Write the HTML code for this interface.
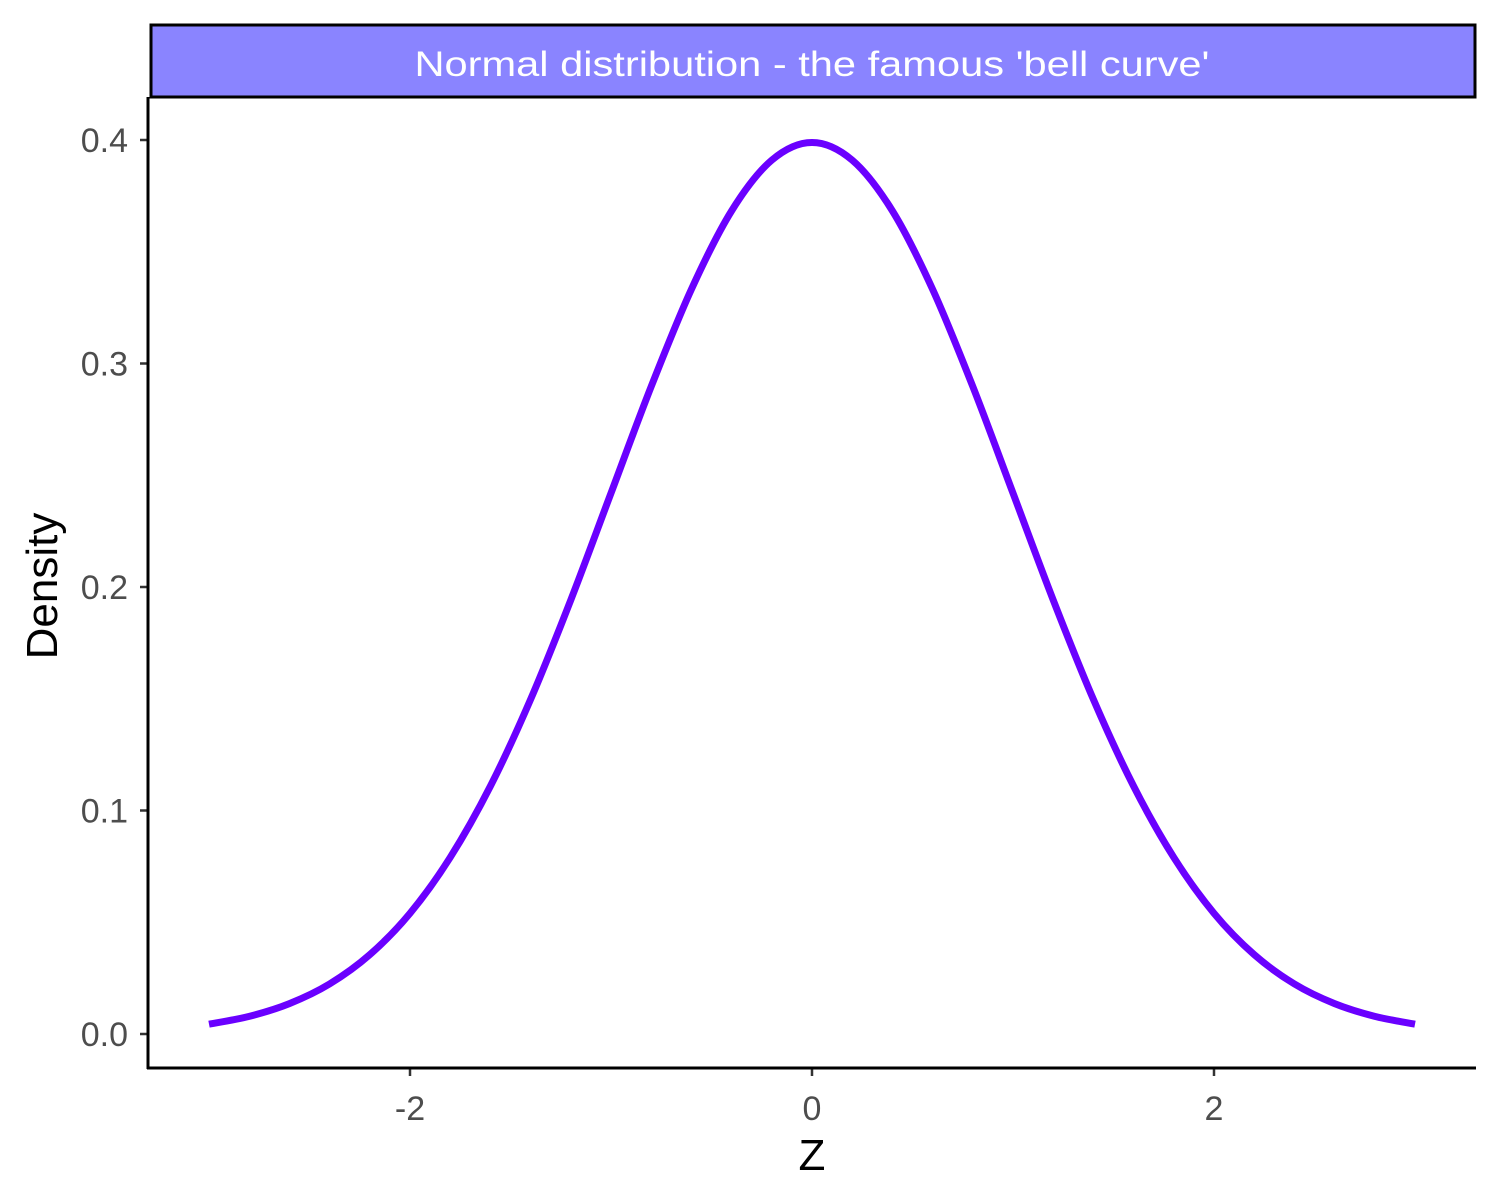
<!DOCTYPE html>
<html><head><meta charset="utf-8"><style>
html,body{margin:0;padding:0;background:#fff;}
svg{display:block;font-family:"Liberation Sans",Arial,sans-serif;}
</style></head><body>
<svg id="chart" width="1500" height="1200" viewBox="0 0 1500 1200">
  <rect x="0" y="0" width="1500" height="1200" fill="#fff"/>
  <g>
    <rect x="151" y="25" width="1324" height="72" fill="#8a84ff" stroke="#000" stroke-width="3"/>
    <text x="812" y="76" text-anchor="middle" font-size="35px" fill="#fff" textLength="795" lengthAdjust="spacingAndGlyphs">Normal distribution - the famous 'bell curve'</text>
  </g>
  <g id="axes"></g>
  <path id="curve" fill="none" stroke="#6a00ff" stroke-width="7" stroke-linejoin="round"/>
  <line x1="148" y1="97" x2="148" y2="1069" stroke="#000" stroke-width="3"/>
  <line x1="147" y1="1068" x2="1476" y2="1068" stroke="#000" stroke-width="3"/>
  <text x="812" y="1170" text-anchor="middle" font-size="44px" fill="#000">Z</text>
  <text transform="translate(57,586) rotate(-90)" text-anchor="middle" font-size="44px" fill="#000">Density</text>
</svg>
<script>
const zValues = [-3,-2.8,-2.6,-2.4,-2.2,-2,-1.8,-1.6,-1.4,-1.2,-1,-0.8,-0.6,-0.4,-0.2,0,0.2,0.4,0.6,0.8,1,1.2,1.4,1.6,1.8,2,2.2,2.4,2.6,2.8,3];
const densityValues = [0.0044,0.0079,0.0136,0.0224,0.0355,0.0540,0.0790,0.1109,0.1497,0.1942,0.2420,0.2897,0.3332,0.3683,0.3910,0.3989,0.3910,0.3683,0.3332,0.2897,0.2420,0.1942,0.1497,0.1109,0.0790,0.0540,0.0355,0.0224,0.0136,0.0079,0.0044];
const xTicks = [-2,0,2];
const xTickLabels = ["-2","0","2"];
const yTicks = [0,0.1,0.2,0.3,0.4];
const yTickLabels = ["0.0","0.1","0.2","0.3","0.4"];

function xScale(v){return 812 + v*201;}
function yScale(v){return 1034 - v*2235;}

const NS="http://www.w3.org/2000/svg";
const axes=document.getElementById('axes');
xTicks.forEach((t,i)=>{
  const l=document.createElementNS(NS,'line');
  l.setAttribute('x1',xScale(t));l.setAttribute('x2',xScale(t));
  l.setAttribute('y1',1068);l.setAttribute('y2',1076);
  l.setAttribute('stroke','#333');l.setAttribute('stroke-width','2.5');
  
  
  axes.appendChild(l);
  const tx=document.createElementNS(NS,'text');
  tx.setAttribute('x',xScale(t));tx.setAttribute('y',1120);
  tx.setAttribute('text-anchor','middle');tx.setAttribute('font-size','34px');tx.setAttribute('fill','#4d4d4d');
  tx.textContent=xTickLabels[i];
  
  
  axes.appendChild(tx);
});
yTicks.forEach((t,i)=>{
  const l=document.createElementNS(NS,'line');
  l.setAttribute('x1',140);l.setAttribute('x2',148);
  l.setAttribute('y1',yScale(t));l.setAttribute('y2',yScale(t));
  l.setAttribute('stroke','#333');l.setAttribute('stroke-width','2.5');
  
  
  axes.appendChild(l);
  const tx=document.createElementNS(NS,'text');
  tx.setAttribute('x',128);tx.setAttribute('y',yScale(t)+12);
  tx.setAttribute('text-anchor','end');tx.setAttribute('font-size','34px');tx.setAttribute('fill','#4d4d4d');
  tx.textContent=yTickLabels[i];
  
  
  axes.appendChild(tx);
});
const pts=zValues.map((z,i)=>[xScale(z),yScale(densityValues[i])]);
let d='M'+pts[0][0]+','+pts[0][1];
for(let i=0;i<pts.length-1;i++){
  const p0=pts[Math.max(0,i-1)],p1=pts[i],p2=pts[i+1],p3=pts[Math.min(pts.length-1,i+2)];
  const c1=[p1[0]+(p2[0]-p0[0])/6,p1[1]+(p2[1]-p0[1])/6];
  const c2=[p2[0]-(p3[0]-p1[0])/6,p2[1]-(p3[1]-p1[1])/6];
  d+=' C'+c1[0]+','+c1[1]+' '+c2[0]+','+c2[1]+' '+p2[0]+','+p2[1];
}
document.getElementById('curve').setAttribute('d',d);
</script>
</body></html>
